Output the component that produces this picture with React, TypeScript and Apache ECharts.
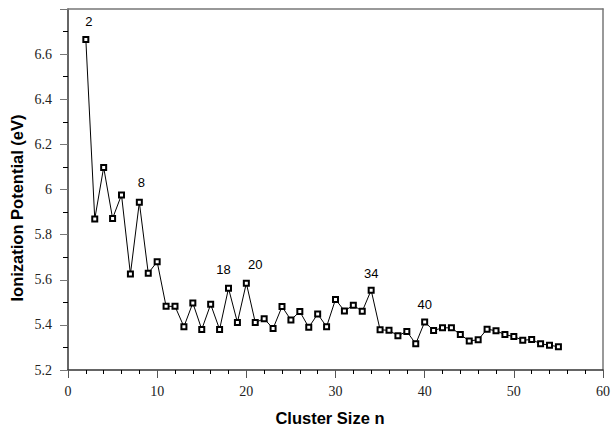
import React, { useEffect, useRef } from "react";
import * as echarts from "echarts";

const clusterSizes = [
  2, 3, 4, 5, 6, 7, 8, 9, 10, 11, 12, 13, 14, 15, 16, 17, 18, 19, 20, 21, 22, 23, 24, 25, 26, 27, 28,
  29, 30, 31, 32, 33, 34, 35, 36, 37, 38, 39, 40, 41, 42, 43, 44, 45, 46, 47, 48, 49, 50, 51, 52, 53,
  54, 55,
];
const ionizationPotential = [
  6.665, 5.869, 6.098, 5.872, 5.976, 5.625, 5.943, 5.629, 5.68, 5.482, 5.482, 5.392, 5.497, 5.38,
  5.491, 5.38, 5.562, 5.411, 5.585, 5.411, 5.427, 5.384, 5.481, 5.422, 5.459, 5.389, 5.448, 5.392,
  5.513, 5.462, 5.487, 5.46, 5.554, 5.378, 5.376, 5.352, 5.371, 5.316, 5.413, 5.375, 5.387, 5.387,
  5.357, 5.329, 5.334, 5.381, 5.374, 5.357, 5.348, 5.332, 5.335, 5.316, 5.31, 5.303,
];
const labeledSizes = [2, 8, 18, 20, 34, 40];
const xTitle = "Cluster Size n";
const yTitle = "Ionization Potential (eV)";

const labelOffsets: Record<number, [number, number]> = {
  2: [3, -1],
  8: [2, -3],
  18: [-5, -2],
  20: [9, -2],
  34: [0, 0],
  40: [0, 0],
};

const SANS = "Liberation Sans";
const SERIF = "Liberation Serif";

export default function App() {
  const ref = useRef<HTMLDivElement>(null);
  useEffect(() => {
    if (!ref.current) return;
    const chart = echarts.init(ref.current, null, { renderer: "svg" });
    const data = clusterSizes.map((n, i) => {
      const item: any = { value: [n, ionizationPotential[i]] };
      if (labeledSizes.includes(n)) {
        item.label = {
          show: true,
          offset: labelOffsets[n],
        };
      }
      return item;
    });
    chart.setOption({
      animation: false,
      backgroundColor: "#fff",
      textStyle: { fontFamily: SERIF },
      grid: { left: 68, right: 9, top: 9, bottom: 56 },
      graphic: [
        {
          type: "text",
          x: 330,
          y: 417.5,
          style: {
            text: xTitle,
            fontFamily: SANS,
            fontWeight: "bold",
            fontSize: 16.5,
            fill: "#000",
            align: "center",
            verticalAlign: "middle",
          },
        },
        {
          type: "text",
          x: 17,
          y: 208,
          rotation: Math.PI / 2,
          style: {
            text: yTitle,
            fontFamily: SANS,
            fontWeight: "bold",
            fontSize: 16.5,
            fill: "#000",
            align: "center",
            verticalAlign: "middle",
          },
        },
      ],
      xAxis: [
        {
          type: "value",
          min: 0,
          max: 60,
          interval: 10,
          axisLine: { show: true, lineStyle: { color: "#333", width: 1.5 } },
          axisTick: { show: true, inside: false, length: 8, lineStyle: { color: "#555" } },
          minorTick: { show: true, splitNumber: 5, length: 4, lineStyle: { color: "#000" } },
          axisLabel: {
            margin: 14,
            fontFamily: SERIF,
            fontSize: 14,
            color: "#222",
          },
          splitLine: { show: false },
        },
        {
          type: "value",
          position: "top",
          min: 0,
          max: 60,
          axisLine: { show: true, onZero: false, lineStyle: { color: "#777", width: 1.5 } },
          axisTick: { show: false },
          axisLabel: { show: false },
          splitLine: { show: false },
        },
      ],
      yAxis: [
        {
          type: "value",
          min: 5.2,
          max: 6.8,
          interval: 0.2,
          axisLine: { show: true, lineStyle: { color: "#333", width: 1.5 } },
          axisTick: { show: true, inside: false, length: 8, lineStyle: { color: "#777" } },
          minorTick: { show: true, splitNumber: 2, length: 5, lineStyle: { color: "#000" } },
          axisLabel: {
            margin: 16,
            fontFamily: SERIF,
            fontSize: 14,
            color: "#222",
            showMaxLabel: false,
            formatter: (v: number) => {
              const r = Math.round(v * 10) / 10;
              return Number.isInteger(r) ? String(r) : r.toFixed(1);
            },
          },
          splitLine: { show: false },
        },
        {
          type: "value",
          position: "right",
          min: 5.2,
          max: 6.8,
          axisLine: { show: true, onZero: false, lineStyle: { color: "#777", width: 1.5 } },
          axisTick: { show: false },
          axisLabel: { show: false },
          splitLine: { show: false },
        },
      ],
      series: [
        {
          type: "line",
          data,
          xAxisIndex: 0,
          yAxisIndex: 0,
          symbol: "emptyRect",
          symbolSize: 5,
          showAllSymbol: true,
          label: {
            show: false,
            position: "top",
            distance: 7,
            color: "#000",
            fontFamily: SANS,
            fontSize: 13,
            formatter: (p: any) => String(p.value[0]),
          },
          lineStyle: { color: "#000", width: 1 },
          itemStyle: { color: "#000", borderColor: "#000", borderWidth: 1 },
          emphasis: { disabled: true },
        },
      ],
    });
    return () => chart.dispose();
  }, []);
  return (
    <div
      ref={ref}
      style={{ position: "absolute", left: 0, top: 0, width: 613, height: 426 }}
    />
  );
}
